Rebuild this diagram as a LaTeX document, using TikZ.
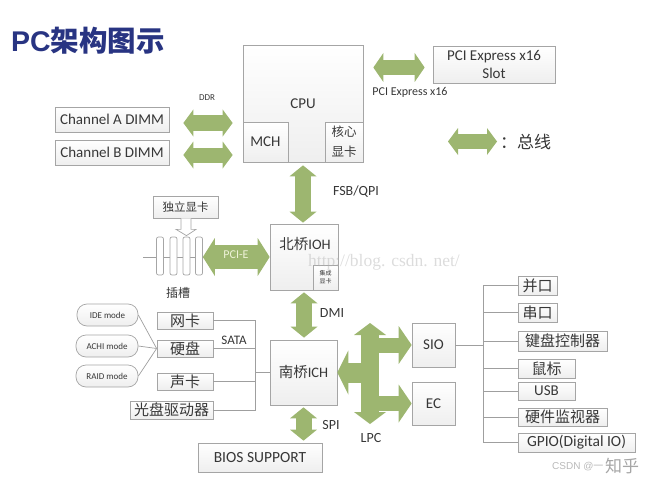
\documentclass[tikz,border=0pt]{standalone}
\usepackage{fontspec}
\setmainfont{Carlito}
\newfontfamily\cjk{Noto Sans CJK SC}
\newfontfamily\ttlfont{Liberation Sans}
\newfontfamily\wmfont{Liberation Serif}
\usetikzlibrary{arrows.meta,calc}
\definecolor{busgreen}{RGB}{157,182,112}
\definecolor{boxline}{RGB}{165,165,165}
\definecolor{titleblue}{RGB}{40,52,130}
\definecolor{txt}{RGB}{55,55,55}
\definecolor{pale}{RGB}{238,242,215}
\newcommand\fs[2]{\fontsize{#1}{#2}\selectfont}
\tikzset{
  box/.style={draw=boxline, top color=white, bottom color=gray!13, line width=0.7pt,
              inner sep=0pt, text=txt, align=center},
  lat/.style={font=\fs{15}{18}},
  zh/.style={font=\cjk\fs{15}{18}},
  lbl/.style={text=txt, inner sep=0pt},
  wire/.style={draw=gray!75, line width=0.7pt},
  fat/.style n args={3}{draw=busgreen, line width=#1,
      {Triangle[width=#2,length=#3,line width=0pt]}-{Triangle[width=#2,length=#3,line width=0pt]}},
  fatr/.style n args={3}{draw=busgreen, line width=#1,
      -{Triangle[width=#2,length=#3,line width=0pt]}},
  slotbar/.style={draw=gray!70, line width=0.7pt, rounded corners=2pt, fill=white,
      minimum width=7pt, minimum height=38pt, inner sep=0pt},
  modebox/.style={box, rounded corners=10pt, font=\fs{9}{10}},
}
\begin{document}
\begin{tikzpicture}[x=1pt,y=-1pt]
\useasboundingbox (0,0) rectangle (655,484);

% title
\node[anchor=west, inner sep=0pt, text=titleblue, font=\ttlfont\bfseries\fs{28.5}{32}] (title) at (11,41) {PC{\cjk\bfseries 架构图示}};

% CPU block
\node[box, lat, minimum width=120pt, minimum height=117pt] (cpu) at (303,103.5) {CPU};
\node[box, lat, minimum width=45pt, minimum height=40pt] (mch) at (265.5,142) {MCH};
\node[box, font=\cjk\fs{12.5}{20}, minimum width=38pt, minimum height=40pt] (igpu) at (344,142) {核心\\显卡};

\node[box, lat, minimum width=122pt, minimum height=37pt] (slot) at (494,64.5) {PCI Express x16\\Slot};
\node[box, lat, minimum width=114pt, minimum height=25pt] (dimA) at (112,119.5) {Channel A DIMM};
\node[box, lat, minimum width=114pt, minimum height=25pt] (dimB) at (112,152.5) {Channel B DIMM};

% north bridge
\node[box, minimum width=68pt, minimum height=66pt] (ioh) at (304,257) {};
\node[lbl, font=\fs{14.5}{16}] (iohtext) at (305,244) {{\cjk 北桥}IOH};
\node[box, font=\cjk\fs{6}{8}, minimum width=25pt, minimum height=25pt] (igfx) at (325.5,277.5) {集成\\显卡};

% south bridge
\node[box, font=\fs{14.5}{16}, minimum width=67pt, minimum height=65pt] (ich) at (303.5,372.5) {{\cjk 南桥}ICH};
\node[box, font=\fs{15.5}{18}, minimum width=124pt, minimum height=29pt] (bios) at (260,457.5) {BIOS SUPPORT};

% graphics card and slots
\node[box, font=\cjk\fs{11.5}{13}, minimum width=65pt, minimum height=22pt] (gpu) at (185.5,207) {独立显卡};
\draw[wire] (143,257) -- (206,257);
\node[slotbar] (slot1) at (160,256) {};
\node[slotbar] (slot2) at (173.5,256) {};
\node[slotbar] (slot3) at (186.5,256) {};
\node[slotbar] (slot4) at (199,256) {};
\draw[draw=gray!70, fill=white, line width=0.7pt]
  ($(gpu.south)+(-4.5,0)$) -- ++(0,11) -- ++(-5,0) -- ($(slot3.north)+(0,-1)$)
  -- ($(gpu.south)+(10.5,11)$) -- ++(-5,0) -- ($(gpu.south)+(5.5,0)$);
\node[lbl, font=\cjk\fs{12}{14}] (slotlbl) at (178,293) {插槽};

% storage etc.
\node[box, zh, minimum width=56pt, minimum height=17pt] (nic) at (185,320.5) {网卡};
\node[box, zh, minimum width=56pt, minimum height=17pt] (hdd) at (185,348.5) {硬盘};
\node[box, zh, minimum width=56pt, minimum height=17pt] (snd) at (185,381.5) {声卡};
\node[box, zh, minimum width=83pt, minimum height=18pt] (odd) at (171.5,410) {光盘驱动器};
\node[modebox, minimum width=61pt, minimum height=22pt] (ide) at (107.5,315) {IDE mode};
\node[modebox, minimum width=62pt, minimum height=22pt] (ahci) at (107,346) {ACHI mode};
\node[modebox, minimum width=62pt, minimum height=22pt] (raid) at (107,376) {RAID mode};
\draw[wire] (ide.east) -- (hdd.west);
\draw[wire] (ahci.east) -- (hdd.west);
\draw[wire] (raid.east) -- (hdd.west);

\coordinate (sata) at (255,372.5);
\draw[wire] (nic.east) -| (sata);
\draw[wire] (odd.east) -| (sata);
\draw[wire] (hdd.east) -- (hdd.east -| sata);
\draw[wire] (snd.east) -- (snd.east -| sata);
\draw[wire] (sata) -- (ich.west);
\node[lbl, font=\fs{13}{15}] (satalbl) at (234,340) {SATA};

% SIO / EC
\node[box, lat, minimum width=43pt, minimum height=44pt] (sio) at (433.5,345) {SIO};
\node[box, lat, minimum width=43pt, minimum height=43pt] (ec) at (433.5,403.5) {EC};

\node[box, zh, minimum width=39pt, minimum height=19pt] (par) at (537.5,285.5) {并口};
\node[box, zh, minimum width=39pt, minimum height=19pt] (ser) at (537.5,312.5) {串口};
\node[box, zh, minimum width=89pt, minimum height=20pt] (kbc) at (562.5,341) {键盘控制器};
\node[box, zh, minimum width=57pt, minimum height=19pt] (mouse) at (546.5,368.5) {鼠标};
\node[box, lat, minimum width=57pt, minimum height=18pt] (usb) at (546.5,391) {USB};
\node[box, zh, minimum width=89pt, minimum height=18pt] (hwm) at (562.5,417) {硬件监视器};
\node[box, font=\fs{15.5}{18}, minimum width=117pt, minimum height=19pt] (gpio) at (576.5,442.5) {GPIO(Digital IO)};

\coordinate (iobus) at (483,345);
\draw[wire] (sio.east) -- (iobus);
\draw[wire] (par.west) -| (iobus);
\draw[wire] (gpio.west) -| (iobus);
\foreach \n in {ser,kbc,mouse,usb,hwm} \draw[wire] (\n.west) -- (\n.west -| iobus);

% buses
\draw[fat={15pt}{27pt}{10pt}, shorten <=14pt, shorten >=10pt]
  ([yshift=-3.5pt]dimA.east) -- ([yshift=-3.5pt]dimA.east -| cpu.west);
\draw[fat={15pt}{27pt}{10pt}, shorten <=14pt, shorten >=10pt]
  ([yshift=-2.5pt]dimB.east) -- ([yshift=-2.5pt]dimB.east -| cpu.west);
\node[lbl, font=\fs{9}{10}] (ddr) at (207,98) {DDR};

\draw[fat={15pt}{29pt}{10pt}, shorten <=10pt, shorten >=8pt]
  ([yshift=-3pt]cpu.east |- slot.west) -- ([yshift=-3pt]slot.west);
\node[lbl, font=\fs{12}{13}] (pcielbl) at (410,92) {PCI Express x16};

\draw[fat={16pt}{27pt}{11pt}, shorten <=3pt, shorten >=1pt] (cpu.south) -- (cpu.south |- ioh.north);
\node[lbl, font=\fs{14}{16}] (fsb) at (356,192) {FSB/QPI};

\draw[fat={16pt}{27pt}{11pt}, shorten <=2pt, shorten >=2pt] (ioh.south) -- (ioh.south |- ich.north);
\node[lbl, font=\fs{14}{16}] (dmi) at (332,313) {DMI};

\draw[fat={16pt}{27pt}{11pt}, shorten <=2pt, shorten >=2pt] (ich.south) -- (ich.south |- bios.north);
\node[lbl, font=\fs{14}{16}] (spi) at (331,425) {SPI};

\draw[fat={24pt}{38pt}{12pt}] ([yshift=-1pt]slot4.east) -- ([yshift=-1pt]slot4.east -| ioh.west);
\node[inner sep=0pt, text=pale, font=\fs{12}{14}] (pcie) at (236,255) {PCI-E};

% LPC
\coordinate (lpcT) at (370,323);
\coordinate (lpcB) at (370,424);
\draw[fat={18pt}{32pt}{12pt}] (lpcT) -- (lpcB);
\draw[fatr={15pt}{38pt}{13pt}] (lpcT |- sio.west) -- (sio.west);
\draw[fatr={15pt}{38pt}{13pt}] (lpcT |- ec.west) -- (ec.west);
\draw[fatr={20pt}{44pt}{11pt}] (lpcT |- ich.east) -- (ich.east);
\node[lbl, font=\fs{14}{16}] (lpc) at (371,438) {LPC};

% legend
\coordinate (lgA) at (448,141.5);
\coordinate (lgB) at (497,141.5);
\draw[fat={15pt}{27pt}{10pt}] (lgA) -- (lgB);
\node[lbl, font=\cjk\fs{17}{20}, anchor=west] (legend) at (500,142) {：总线};

% watermarks
\node[anchor=east, inner sep=0pt, text=gray!60, opacity=0.45, font=\wmfont\fs{17.5}{20}] (wm) at (460,262) {http://blog. csdn. net/};
\node[anchor=west, inner sep=0pt, text=gray!55, font=\ttlfont\fs{10}{12}] (csdn) at (552,467) {CSDN @{\cjk 一}};
\node[anchor=west, inner sep=0pt, text=gray!70, font=\cjk\fs{17}{19}] (zhihu) at (605,466) {知乎};
\end{tikzpicture}
\end{document}
